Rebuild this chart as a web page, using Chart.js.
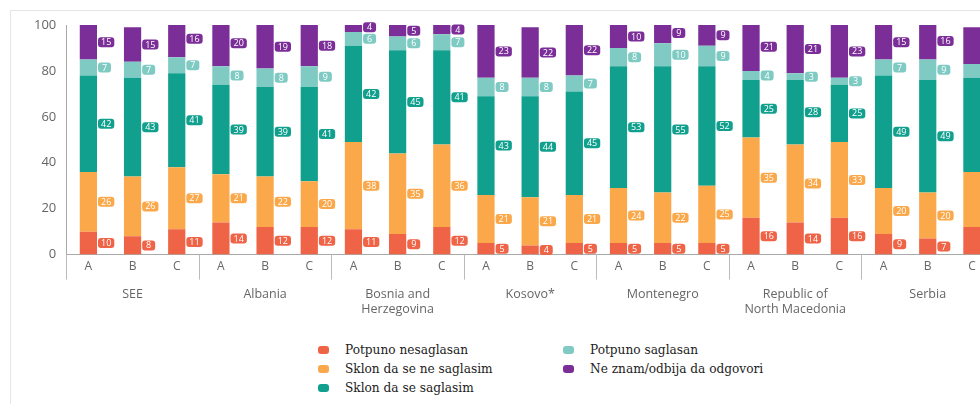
<!DOCTYPE html>
<html>
<head>
<meta charset="utf-8">
<script src="https://cdn.jsdelivr.net/npm/chart.js@4/dist/chart.umd.min.js"></script>
<style>
  body { margin: 0; background: #fff; overflow: hidden; width: 980px; height: 404px; position: relative; }
  #frame { position: absolute; left: 10px; top: 10px; width: 990px; height: 420px; border-left: 1px solid #e6e6e6; border-top: 1px solid #e6e6e6; }
  #wrap { position: absolute; left: 0; top: 0; width: 994px; height: 325px; }
  #legend { position: absolute; left: 0; top: 0; font-size: 13.5px; color: #222; }
  .item { position: absolute; white-space: nowrap; }
  .item span.box { position: absolute; left: 0; top: 6px; width: 11px; height: 8px; border-radius: 3px; }
  .item span.txt { position: absolute; left: 27px; top: 0; line-height: 18px; font-family: 'DejaVu Serif', serif; font-stretch: condensed; }
</style>
</head>
<body>
<div id="frame"></div>
<div id="wrap"><canvas id="myChart"></canvas></div>
<div id="legend"></div>
<script>
var groups = ['SEE', 'Albania', ['Bosnia and', 'Herzegovina'], 'Kosovo*', 'Montenegro', ['Republic of', 'North Macedonia'], 'Serbia'];
var bars = ['A', 'B', 'C'];
var yTicks = [0, 20, 40, 60, 80, 100];

var seriesNames = ['Potpuno nesaglasan', 'Sklon da se ne saglasim', 'Sklon da se saglasim', 'Potpuno saglasan', 'Ne znam/odbija da odgovori'];
var colors = ['#ef6347', '#fba84a', '#12a08e', '#7fcbc3', '#7b2e98'];

var potpunoNesaglasan = [10, 8, 11, 14, 12, 12, 11, 9, 12, 5, 4, 5, 5, 5, 5, 16, 14, 16, 9, 7, 12];
var sklonNeSaglasim   = [26, 26, 27, 21, 22, 20, 38, 35, 36, 21, 21, 21, 24, 22, 25, 35, 34, 33, 20, 20, 24];
var sklonSaglasim     = [42, 43, 41, 39, 39, 41, 42, 45, 41, 43, 44, 45, 53, 55, 52, 25, 28, 25, 49, 49, 41];
var potpunoSaglasan   = [7, 7, 7, 8, 8, 9, 6, 6, 7, 8, 8, 7, 8, 10, 9, 4, 3, 3, 7, 9, 6];
var neZnam            = [15, 15, 16, 20, 19, 18, 4, 5, 4, 23, 22, 22, 10, 9, 9, 21, 21, 23, 15, 16, 16];

var seriesData = [potpunoNesaglasan, sklonNeSaglasim, sklonSaglasim, potpunoSaglasan, neZnam];

var labels = [];
groups.forEach(function () { bars.forEach(function (b) { labels.push(b); }); });

var datasets = seriesData.map(function (d, i) {
  return {
    label: seriesNames[i],
    data: d,
    backgroundColor: colors[i],
    barPercentage: 0.39,
    categoryPercentage: 1
  };
});

// little rounded value boxes to the right of each segment
var valueBoxes = {
  id: 'valueBoxes',
  afterDatasetsDraw: function (chart) {
    var ctx = chart.ctx;
    ctx.save();
    ctx.font = '9px "Open Sans", sans-serif';
    ctx.textAlign = 'center';
    ctx.textBaseline = 'middle';
    chart.data.datasets.forEach(function (ds, di) {
      var meta = chart.getDatasetMeta(di);
      meta.data.forEach(function (bar, i) {
        var v = ds.data[i];
        var tw = ctx.measureText(String(v)).width;
        var w = Math.max(tw + 6, 13), h = 10;
        var x = bar.x + bar.width / 2 + 1;
        var y = (bar.y + bar.base) / 2 - h / 2;
        ctx.fillStyle = ds.backgroundColor;
        ctx.beginPath();
        ctx.roundRect(x, y, w, h, 3);
        ctx.fill();
        ctx.fillStyle = '#fff';
        ctx.fillText(String(v), x + w / 2, y + h / 2 + 0.5);
      });
    });
    ctx.restore();
  }
};

// group separators below the axis, every 3 categories
var groupLines = {
  id: 'groupLines',
  afterDraw: function (chart) {
    var xs = chart.scales.x, ctx = chart.ctx;
    var half = (xs.getPixelForValue(1) - xs.getPixelForValue(0)) / 2;
    ctx.save();
    ctx.strokeStyle = '#bbb';
    ctx.lineWidth = 1;
    for (var i = 0; i < labels.length; i += bars.length) {
      var x = Math.round(xs.getPixelForValue(i) - half) + 0.5;
      ctx.beginPath();
      ctx.moveTo(x, xs.top);
      ctx.lineTo(x, xs.top + 25);
      ctx.stroke();
    }
    ctx.restore();
  }
};

var ctx = document.getElementById('myChart').getContext('2d');
var myChart = new Chart(ctx, {
  type: 'bar',
  data: { labels: labels, datasets: datasets },
  options: {
    responsive: true,
    maintainAspectRatio: false,
    animation: false,
    layout: { padding: { top: 25, left: 32, right: 0, bottom: 8 } },
    plugins: { legend: { display: false }, tooltip: { enabled: false } },
    scales: {
      x: {
        stacked: true,
        ticks: { color: '#666', font: { family: '"Open Sans", sans-serif', size: 12 }, padding: 5 },
        grid: { display: true, drawOnChartArea: false, drawTicks: false, color: 'rgba(0,0,0,0)' },
        border: { color: '#aaa' }
      },
      x2: {
        type: 'category',
        labels: groups,
        position: 'bottom',
        offset: true,
        ticks: { color: '#666', font: { family: '"Open Sans", sans-serif', size: 12.5 }, padding: 0 },
        grid: { display: false },
        border: { display: false }
      },
      y: {
        stacked: true,
        min: 0,
        max: 100,
        afterBuildTicks: function (s) { s.ticks = yTicks.map(function (v) { return { value: v }; }); },
        ticks: { color: '#666', font: { family: '"Open Sans", sans-serif', size: 13 }, padding: 2 },
        grid: { display: false },
        border: { color: '#aaa' }
      }
    }
  },
  plugins: [valueBoxes, groupLines]
});

// two-column legend built from the datasets
var legend = document.getElementById('legend');
var pos = [[318, 340], [318, 359], [318, 378], [563, 340], [563, 359]];
myChart.data.datasets.forEach(function (ds, i) {
  var d = document.createElement('div');
  d.className = 'item';
  d.style.left = pos[i][0] + 'px';
  d.style.top = pos[i][1] + 'px';
  d.innerHTML = '<span class="box" style="background:' + ds.backgroundColor + '"></span><span class="txt"></span>';
  d.querySelector('.txt').textContent = ds.label;
  legend.appendChild(d);
});
</script>
</body>
</html>
